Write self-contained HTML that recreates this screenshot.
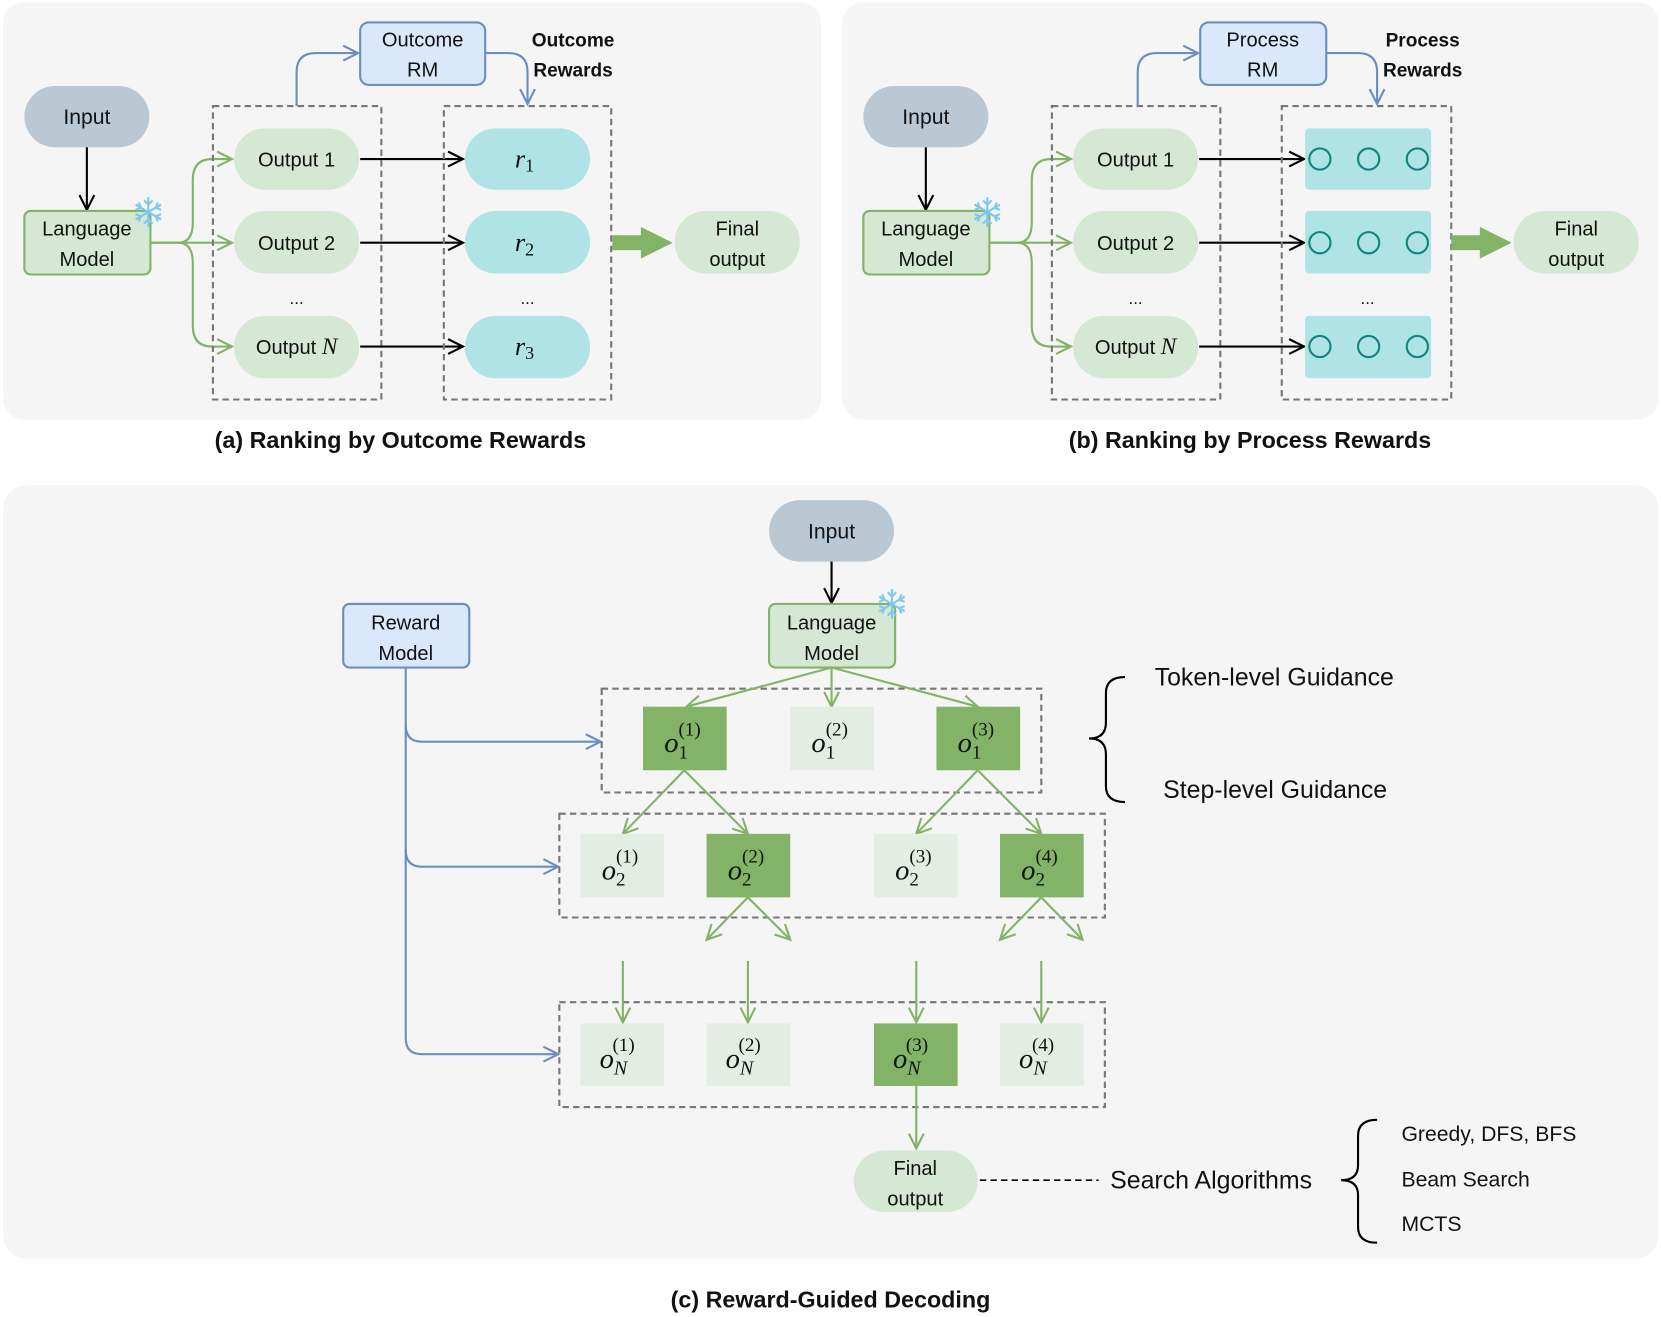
<!DOCTYPE html>
<html><head><meta charset="utf-8"><style>
html,body{margin:0;padding:0;background:#fff;}
svg{display:block;}
text{font-family:"Liberation Sans",sans-serif;fill:#111;}
.m{font-family:"Liberation Serif",serif;font-style:italic;}
.n{font-family:"Liberation Serif",serif;font-style:normal;}
</style></head><body>
<svg width="1661" height="1317" viewBox="0 0 1568 1243" xmlns="http://www.w3.org/2000/svg">
<defs>
<marker id="ak" markerUnits="userSpaceOnUse" markerWidth="20" markerHeight="20" refX="16" refY="10" orient="auto"><path d="M2,3 L16,10 L2,17" fill="none" stroke="#000" stroke-width="2"/></marker>
<marker id="ag" markerUnits="userSpaceOnUse" markerWidth="20" markerHeight="20" refX="16" refY="10" orient="auto"><path d="M2,3 L16,10 L2,17" fill="none" stroke="#82b366" stroke-width="2"/></marker>
<marker id="ab" markerUnits="userSpaceOnUse" markerWidth="20" markerHeight="20" refX="16" refY="10" orient="auto"><path d="M2,3 L16,10 L2,17" fill="none" stroke="#6c8ebf" stroke-width="2"/></marker>
<g id="snow" stroke="#7ec8f0" stroke-width="2" fill="none">
<path d="M0,-14 V14 M-12,-7 L12,7 M-12,7 L12,-7"/>
<path d="M-4,-11 L0,-7 L4,-11 M-4,11 L0,7 L4,11 M-12,-2 L-7,-4 L-9,-9 M12,2 L7,4 L9,9 M-12,2 L-7,4 L-9,9 M12,-2 L7,-4 L9,-9"/>
</g>
</defs>

<rect x="3" y="2" width="772" height="394" rx="20" fill="#f5f5f5"/>
<rect x="795" y="2" width="771" height="394" rx="20" fill="#f5f5f5"/>
<rect x="3" y="458" width="1563" height="730" rx="22" fill="#f5f5f5"/>

<text x="378" y="423" font-size="22" font-weight="bold" text-anchor="middle">(a) Ranking by Outcome Rewards</text>
<text x="1180" y="423" font-size="22" font-weight="bold" text-anchor="middle">(b) Ranking by Process Rewards</text>
<text x="784" y="1234" font-size="22" font-weight="bold" text-anchor="middle">(c) Reward-Guided Decoding</text>

<g id="pa">
<rect x="23" y="81" width="118" height="58" rx="29" fill="#bac8d3"/>
<text x="82" y="117" font-size="20" text-anchor="middle">Input</text>
<line x1="82" y1="139" x2="82" y2="198" stroke="#000" stroke-width="2" marker-end="url(#ak)"/>
<rect x="23" y="199" width="119" height="60" rx="6" fill="#d5e8d4" stroke="#82b366" stroke-width="2"/>
<text x="82" y="222" font-size="19" text-anchor="middle">Language</text>
<text x="82" y="251" font-size="19" text-anchor="middle">Model</text>
<use href="#snow" x="140" y="200"/>
<path d="M142,229 H168 Q182,229 182,210 V170 Q182,150 200,150 H219" fill="none" stroke="#82b366" stroke-width="2" marker-end="url(#ag)"/>
<path d="M142,229 H219" fill="none" stroke="#82b366" stroke-width="2" marker-end="url(#ag)"/>
<path d="M168,229 Q182,229 182,248 V307 Q182,327 200,327 H219" fill="none" stroke="#82b366" stroke-width="2" marker-end="url(#ag)"/>
<rect x="201" y="100" width="159" height="277" fill="none" stroke="#777" stroke-width="2" stroke-dasharray="6,4"/>
<rect x="221" y="121" width="118" height="58" rx="29" fill="#d5e8d4"/>
<rect x="221" y="199" width="118" height="59" rx="29" fill="#d5e8d4"/>
<rect x="221" y="298" width="118" height="59" rx="29" fill="#d5e8d4"/>
<text x="280" y="157" font-size="19" text-anchor="middle">Output 1</text>
<text x="280" y="236" font-size="19" text-anchor="middle">Output 2</text>
<text x="280" y="334" font-size="19" text-anchor="middle">Output <tspan class="m" font-size="22">N</tspan></text>
<text x="280" y="287" font-size="16" text-anchor="middle">...</text>
<line x1="340" y1="150" x2="437" y2="150" stroke="#000" stroke-width="2" marker-end="url(#ak)"/>
<line x1="340" y1="229" x2="437" y2="229" stroke="#000" stroke-width="2" marker-end="url(#ak)"/>
<line x1="340" y1="327" x2="437" y2="327" stroke="#000" stroke-width="2" marker-end="url(#ak)"/>
<rect x="340" y="21" width="118" height="59" rx="8" fill="#dae8fc" stroke="#6c8ebf" stroke-width="2"/>
<text x="399" y="44" font-size="19" text-anchor="middle">Outcome</text>
<text x="399" y="72" font-size="19" text-anchor="middle">RM</text>
<path d="M280,100 V68 Q280,50 298,50 H338" fill="none" stroke="#6c8ebf" stroke-width="2" marker-end="url(#ab)"/>
<path d="M458,50 H480 Q498,50 498,68 V98" fill="none" stroke="#6c8ebf" stroke-width="2" marker-end="url(#ab)"/>
<text x="541" y="44" font-size="18" font-weight="bold" text-anchor="middle">Outcome</text>
<text x="541" y="72" font-size="18" font-weight="bold" text-anchor="middle">Rewards</text>
<rect x="419" y="100" width="158" height="277" fill="none" stroke="#777" stroke-width="2" stroke-dasharray="6,4"/>
<text x="498" y="287" font-size="16" text-anchor="middle">...</text>
<path d="M578,222 H605 V214 L635,229 L605,244 V236 H578 Z" fill="#82b366"/>
<rect x="637" y="199" width="118" height="59" rx="29" fill="#d5e8d4"/>
<text x="696" y="222" font-size="19" text-anchor="middle">Final</text>
<text x="696" y="251" font-size="19" text-anchor="middle">output</text>
</g>
<rect x="439" y="121" width="118" height="58" rx="29" fill="#b0e3e6"/>
<rect x="439" y="199" width="118" height="59" rx="29" fill="#b0e3e6"/>
<rect x="439" y="298" width="118" height="59" rx="29" fill="#b0e3e6"/>
<text x="486" y="158" font-size="25" class="m">r<tspan class="n" font-size="17" dy="4">1</tspan></text>
<text x="486" y="237" font-size="25" class="m">r<tspan class="n" font-size="17" dy="4">2</tspan></text>
<text x="486" y="335" font-size="25" class="m">r<tspan class="n" font-size="17" dy="4">3</tspan></text>

<g transform="translate(792,0)">
<rect x="23" y="81" width="118" height="58" rx="29" fill="#bac8d3"/>
<text x="82" y="117" font-size="20" text-anchor="middle">Input</text>
<line x1="82" y1="139" x2="82" y2="198" stroke="#000" stroke-width="2" marker-end="url(#ak)"/>
<rect x="23" y="199" width="119" height="60" rx="6" fill="#d5e8d4" stroke="#82b366" stroke-width="2"/>
<text x="82" y="222" font-size="19" text-anchor="middle">Language</text>
<text x="82" y="251" font-size="19" text-anchor="middle">Model</text>
<use href="#snow" x="140" y="200"/>
<path d="M142,229 H168 Q182,229 182,210 V170 Q182,150 200,150 H219" fill="none" stroke="#82b366" stroke-width="2" marker-end="url(#ag)"/>
<path d="M142,229 H219" fill="none" stroke="#82b366" stroke-width="2" marker-end="url(#ag)"/>
<path d="M168,229 Q182,229 182,248 V307 Q182,327 200,327 H219" fill="none" stroke="#82b366" stroke-width="2" marker-end="url(#ag)"/>
<rect x="201" y="100" width="159" height="277" fill="none" stroke="#777" stroke-width="2" stroke-dasharray="6,4"/>
<rect x="221" y="121" width="118" height="58" rx="29" fill="#d5e8d4"/>
<rect x="221" y="199" width="118" height="59" rx="29" fill="#d5e8d4"/>
<rect x="221" y="298" width="118" height="59" rx="29" fill="#d5e8d4"/>
<text x="280" y="157" font-size="19" text-anchor="middle">Output 1</text>
<text x="280" y="236" font-size="19" text-anchor="middle">Output 2</text>
<text x="280" y="334" font-size="19" text-anchor="middle">Output <tspan class="m" font-size="22">N</tspan></text>
<text x="280" y="287" font-size="16" text-anchor="middle">...</text>
<line x1="340" y1="150" x2="439" y2="150" stroke="#000" stroke-width="2" marker-end="url(#ak)"/>
<line x1="340" y1="229" x2="439" y2="229" stroke="#000" stroke-width="2" marker-end="url(#ak)"/>
<line x1="340" y1="327" x2="439" y2="327" stroke="#000" stroke-width="2" marker-end="url(#ak)"/>
<rect x="341" y="21" width="119" height="59" rx="8" fill="#dae8fc" stroke="#6c8ebf" stroke-width="2"/>
<text x="400" y="44" font-size="19" text-anchor="middle">Process</text>
<text x="400" y="72" font-size="19" text-anchor="middle">RM</text>
<path d="M282,100 V68 Q282,50 300,50 H339" fill="none" stroke="#6c8ebf" stroke-width="2" marker-end="url(#ab)"/>
<path d="M460,50 H490 Q508,50 508,68 V98" fill="none" stroke="#6c8ebf" stroke-width="2" marker-end="url(#ab)"/>
<text x="551" y="44" font-size="18" font-weight="bold" text-anchor="middle">Process</text>
<text x="551" y="72" font-size="18" font-weight="bold" text-anchor="middle">Rewards</text>
<rect x="418" y="100" width="160" height="277" fill="none" stroke="#777" stroke-width="2" stroke-dasharray="6,4"/>
<text x="499" y="287" font-size="16" text-anchor="middle">...</text>
<g fill="none" stroke="#10857f" stroke-width="2">
<rect x="440" y="121" width="119" height="58" rx="4" fill="#b0e3e6" stroke="none"/>
<rect x="440" y="199" width="119" height="59" rx="4" fill="#b0e3e6" stroke="none"/>
<rect x="440" y="298" width="119" height="59" rx="4" fill="#b0e3e6" stroke="none"/>
<circle cx="454" cy="150" r="10"/><circle cx="500" cy="150" r="10"/><circle cx="546" cy="150" r="10"/>
<circle cx="454" cy="229" r="10"/><circle cx="500" cy="229" r="10"/><circle cx="546" cy="229" r="10"/>
<circle cx="454" cy="327" r="10"/><circle cx="500" cy="327" r="10"/><circle cx="546" cy="327" r="10"/>
</g>
<path d="M578,222 H605 V214 L635,229 L605,244 V236 H578 Z" fill="#82b366"/>
<rect x="637" y="199" width="118" height="59" rx="29" fill="#d5e8d4"/>
<text x="696" y="222" font-size="19" text-anchor="middle">Final</text>
<text x="696" y="251" font-size="19" text-anchor="middle">output</text>
</g>

<rect x="726" y="472" width="118" height="58" rx="29" fill="#bac8d3"/>
<text x="785" y="508" font-size="20" text-anchor="middle">Input</text>
<line x1="785" y1="530" x2="785" y2="569" stroke="#000" stroke-width="2" marker-end="url(#ak)"/>
<rect x="726" y="570" width="119" height="60" rx="6" fill="#d5e8d4" stroke="#82b366" stroke-width="2"/>
<text x="785" y="594" font-size="19" text-anchor="middle">Language</text>
<text x="785" y="623" font-size="19" text-anchor="middle">Model</text>
<use href="#snow" x="842" y="570"/>
<rect x="324" y="570" width="119" height="60" rx="6" fill="#dae8fc" stroke="#6c8ebf" stroke-width="2"/>
<text x="383" y="594" font-size="19" text-anchor="middle">Reward</text>
<text x="383" y="623" font-size="19" text-anchor="middle">Model</text>
<g fill="none" stroke="#6c8ebf" stroke-width="2">
<path d="M383,630 V980 Q383,995 398,995 H527" marker-end="url(#ab)"/>
<path d="M383,684 Q383,700 398,700 H567" marker-end="url(#ab)"/>
<path d="M383,802 Q383,818 398,818 H527" marker-end="url(#ab)"/>
</g>
<g fill="none" stroke="#777" stroke-width="2" stroke-dasharray="6,4">
<rect x="568" y="650" width="415" height="98"/>
<rect x="528" y="768" width="515" height="98"/>
<rect x="528" y="946" width="515" height="99"/>
</g>
<g fill="none" stroke="#82b366" stroke-width="2">
<line x1="785" y1="630" x2="648" y2="667" marker-end="url(#ag)"/>
<line x1="785" y1="630" x2="785" y2="667" marker-end="url(#ag)"/>
<line x1="785" y1="630" x2="923" y2="667" marker-end="url(#ag)"/>
<line x1="646" y1="727" x2="588" y2="787" marker-end="url(#ag)"/>
<line x1="646" y1="727" x2="706" y2="787" marker-end="url(#ag)"/>
<line x1="923" y1="727" x2="865" y2="787" marker-end="url(#ag)"/>
<line x1="923" y1="727" x2="983" y2="787" marker-end="url(#ag)"/>
<line x1="706" y1="847" x2="667" y2="887" marker-end="url(#ag)"/>
<line x1="706" y1="847" x2="746" y2="887" marker-end="url(#ag)"/>
<line x1="983" y1="847" x2="944" y2="887" marker-end="url(#ag)"/>
<line x1="983" y1="847" x2="1022" y2="887" marker-end="url(#ag)"/>
<line x1="588" y1="907" x2="588" y2="965" marker-end="url(#ag)"/>
<line x1="706" y1="907" x2="706" y2="965" marker-end="url(#ag)"/>
<line x1="865" y1="907" x2="865" y2="965" marker-end="url(#ag)"/>
<line x1="983" y1="907" x2="983" y2="965" marker-end="url(#ag)"/>
<line x1="865" y1="1025" x2="865" y2="1084" marker-end="url(#ag)"/>
</g>
<rect x="607" y="667" width="79" height="60" fill="#82b366"/>
<rect x="746" y="667" width="79" height="60" fill="#e3ede3"/>
<rect x="884" y="667" width="79" height="60" fill="#82b366"/>
<rect x="548" y="787" width="79" height="60" fill="#e3ede3"/>
<rect x="667" y="787" width="79" height="60" fill="#82b366"/>
<rect x="825" y="787" width="79" height="60" fill="#e3ede3"/>
<rect x="944" y="787" width="79" height="60" fill="#82b366"/>
<rect x="548" y="966" width="79" height="59" fill="#e3ede3"/>
<rect x="667" y="966" width="79" height="59" fill="#e3ede3"/>
<rect x="825" y="966" width="79" height="59" fill="#82b366"/>
<rect x="944" y="966" width="79" height="59" fill="#e3ede3"/>
<g font-size="27" class="m">
<text x="627" y="710" class="m">o<tspan class="n" font-size="18" dy="6">1</tspan><tspan class="n" font-size="18" dx="-9" dy="-22">(1)</tspan></text>
<text x="766" y="710" class="m">o<tspan class="n" font-size="18" dy="6">1</tspan><tspan class="n" font-size="18" dx="-9" dy="-22">(2)</tspan></text>
<text x="904" y="710" class="m">o<tspan class="n" font-size="18" dy="6">1</tspan><tspan class="n" font-size="18" dx="-9" dy="-22">(3)</tspan></text>
<text x="568" y="830" class="m">o<tspan class="n" font-size="18" dy="6">2</tspan><tspan class="n" font-size="18" dx="-9" dy="-22">(1)</tspan></text>
<text x="687" y="830" class="m">o<tspan class="n" font-size="18" dy="6">2</tspan><tspan class="n" font-size="18" dx="-9" dy="-22">(2)</tspan></text>
<text x="845" y="830" class="m">o<tspan class="n" font-size="18" dy="6">2</tspan><tspan class="n" font-size="18" dx="-9" dy="-22">(3)</tspan></text>
<text x="964" y="830" class="m">o<tspan class="n" font-size="18" dy="6">2</tspan><tspan class="n" font-size="18" dx="-9" dy="-22">(4)</tspan></text>
<text x="566" y="1008" class="m">o<tspan font-size="19" dy="6">N</tspan><tspan class="n" font-size="18" dx="-14" dy="-22">(1)</tspan></text>
<text x="685" y="1008" class="m">o<tspan font-size="19" dy="6">N</tspan><tspan class="n" font-size="18" dx="-14" dy="-22">(2)</tspan></text>
<text x="843" y="1008" class="m">o<tspan font-size="19" dy="6">N</tspan><tspan class="n" font-size="18" dx="-14" dy="-22">(3)</tspan></text>
<text x="962" y="1008" class="m">o<tspan font-size="19" dy="6">N</tspan><tspan class="n" font-size="18" dx="-14" dy="-22">(4)</tspan></text>
</g>
<rect x="806" y="1086" width="117" height="58" rx="29" fill="#d5e8d4"/>
<text x="864" y="1109" font-size="19" text-anchor="middle">Final</text>
<text x="864" y="1138" font-size="19" text-anchor="middle">output</text>
<line x1="925" y1="1114" x2="1037" y2="1114" stroke="#000" stroke-width="1.5" stroke-dasharray="6,4"/>
<text x="1048" y="1122" font-size="23.5">Search Algorithms</text>
<path d="M1300,1057 Q1282,1057 1282,1072 V1100 Q1282,1114 1266,1114 Q1282,1114 1282,1128 V1158 Q1282,1173 1300,1173" fill="none" stroke="#000" stroke-width="2"/>
<text x="1323" y="1077" font-size="20">Greedy, DFS, BFS</text>
<text x="1323" y="1120" font-size="20">Beam Search</text>
<text x="1323" y="1162" font-size="20">MCTS</text>
<path d="M1062,639 Q1044,639 1044,654 V682 Q1044,697 1028,697 Q1044,697 1044,712 V742 Q1044,757 1062,757" fill="none" stroke="#000" stroke-width="2"/>
<text x="1090" y="647" font-size="23.5">Token-level Guidance</text>
<text x="1098" y="753" font-size="23.5">Step-level Guidance</text>
</svg>
</body></html>
